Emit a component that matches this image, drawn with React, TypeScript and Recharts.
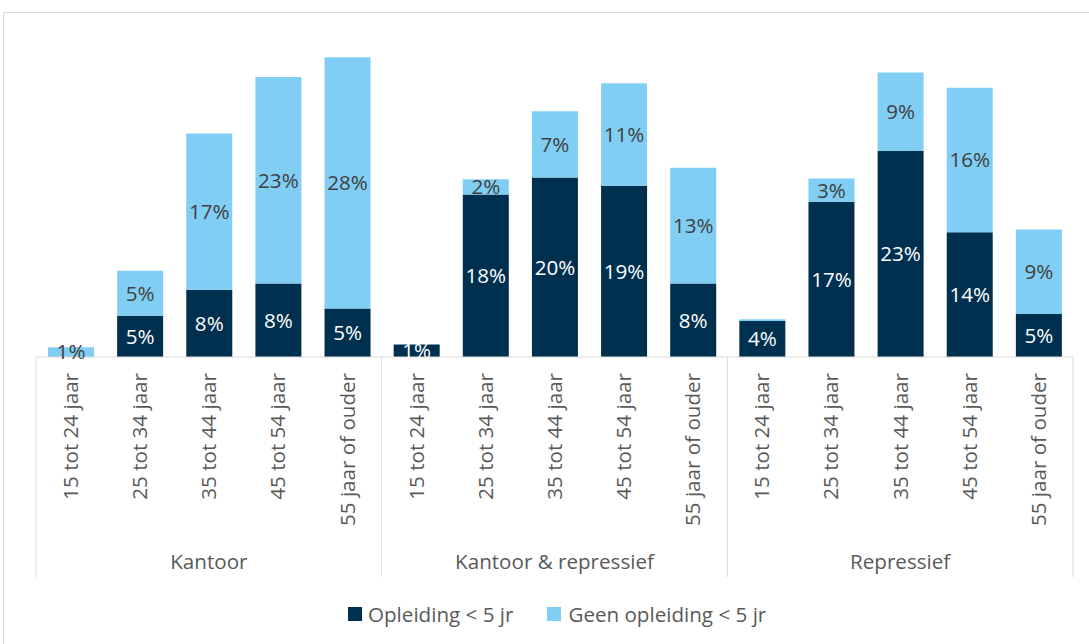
import React from 'react'
import { BarChart, Bar, XAxis, YAxis, LabelList } from 'recharts'

const groups = ['Kantoor', 'Kantoor & repressief', 'Repressief']
const ages = ['15 tot 24 jaar', '25 tot 34 jaar', '35 tot 44 jaar', '45 tot 54 jaar', '55 jaar of ouder']

// share per category, in %
const opleiding = [0, 4.6, 7.5, 8.2, 5.4, 1.4, 18.1, 20.0, 19.1, 8.2, 4.0, 17.3, 23.0, 13.9, 4.8]
const geenOpleiding = [1.1, 5.0, 17.4, 23.0, 28.0, 0, 1.7, 7.4, 11.4, 12.9, 0.2, 2.6, 8.7, 16.1, 9.4]

const DARK = '#00304f'
const LIGHT = '#80cef3'
const TEXT = '#595959'
const GRID = '#d9d9d9'
const FONT = '"Open Sans", sans-serif'
const FS = 20.6

const W = 1089
const H = 644
const M_LEFT = 36
const M_RIGHT = 16
const BAND = (W - M_LEFT - M_RIGHT) / (groups.length * ages.length)

const data = groups.flatMap((g, gi) =>
  ages.map((a, ai) => {
    const i = gi * ages.length + ai
    return { key: `${g}|${a}`, group: g, age: a, opl: opleiding[i], geen: geenOpleiding[i] }
  })
)

function AxisTick(props: any) {
  const { x, y, payload, index } = props
  const [group, age] = String(payload.value).split('|')
  const pos = index % ages.length
  return (
    <g>
      <text
        x={x}
        y={y + 16}
        transform={`rotate(-90 ${x} ${y + 16})`}
        textAnchor="end"
        dy="0.36em"
        fontSize={FS}
        fontFamily={FONT}
        fill={TEXT}
      >
        {age}
      </text>
      {pos === 0 && <line x1={x - BAND / 2} x2={x - BAND / 2} y1={y} y2={y + 220} stroke={GRID} />}
      {index === data.length - 1 && <line x1={x + BAND / 2} x2={x + BAND / 2} y1={y} y2={y + 220} stroke={GRID} />}
      {pos === 2 && (
        <text x={x} y={y + 212} textAnchor="middle" fontSize={FS} fontFamily={FONT} fill={TEXT}>
          {group}
        </text>
      )}
    </g>
  )
}

const pctLabel = (color: string) => (props: any) => {
  const { x, y, width, height, value } = props
  const v = Math.round(Number(value))
  if (!v) return null
  return (
    <text
      x={x + width / 2}
      y={y + height / 2}
      dy="0.36em"
      textAnchor="middle"
      fontSize={FS}
      fontFamily={FONT}
      fill={color}
    >
      {v}%
    </text>
  )
}

export default function App() {
  return (
    <div style={{ position: 'fixed', inset: 0, overflow: 'hidden', background: '#fff' }}>
      <div
        style={{
          position: 'absolute',
          left: 3,
          top: 12,
          width: 1100,
          height: 660,
          border: `1px solid ${GRID}`,
          boxSizing: 'border-box',
        }}
      />
      <div style={{ position: 'absolute', left: 0, top: 0 }}>
        <BarChart
          width={W}
          height={H}
          data={data}
          margin={{ top: 43, right: M_RIGHT, bottom: 0, left: M_LEFT }}
          barCategoryGap="33%"
        >
          <YAxis hide domain={[0, 35]} />
          <XAxis
            dataKey="key"
            interval={0}
            tickLine={false}
            tickSize={0}
            tickMargin={0}
            axisLine={{ stroke: GRID }}
            height={287}
            tick={<AxisTick />}
          />
          <Bar dataKey="opl" stackId="a" fill={DARK} barSize={46} isAnimationActive={false}>
            <LabelList dataKey="opl" content={pctLabel('#ffffff')} />
          </Bar>
          <Bar dataKey="geen" stackId="a" fill={LIGHT} barSize={46} isAnimationActive={false}>
            <LabelList dataKey="geen" content={pctLabel('#404040')} />
          </Bar>
        </BarChart>
      </div>
      <div
        style={{
          position: 'absolute',
          top: 600,
          left: 348,
          display: 'flex',
          alignItems: 'center',
          fontFamily: FONT,
          fontSize: FS,
          color: TEXT,
          whiteSpace: 'nowrap',
        }}
      >
        <span style={{ width: 14, height: 14, background: DARK, display: 'inline-block', marginRight: 6 }} />
        <span>Opleiding &lt; 5 jr</span>
        <span style={{ width: 14, height: 14, background: LIGHT, display: 'inline-block', marginLeft: 34, marginRight: 7 }} />
        <span>Geen opleiding &lt; 5 jr</span>
      </div>
    </div>
  )
}
